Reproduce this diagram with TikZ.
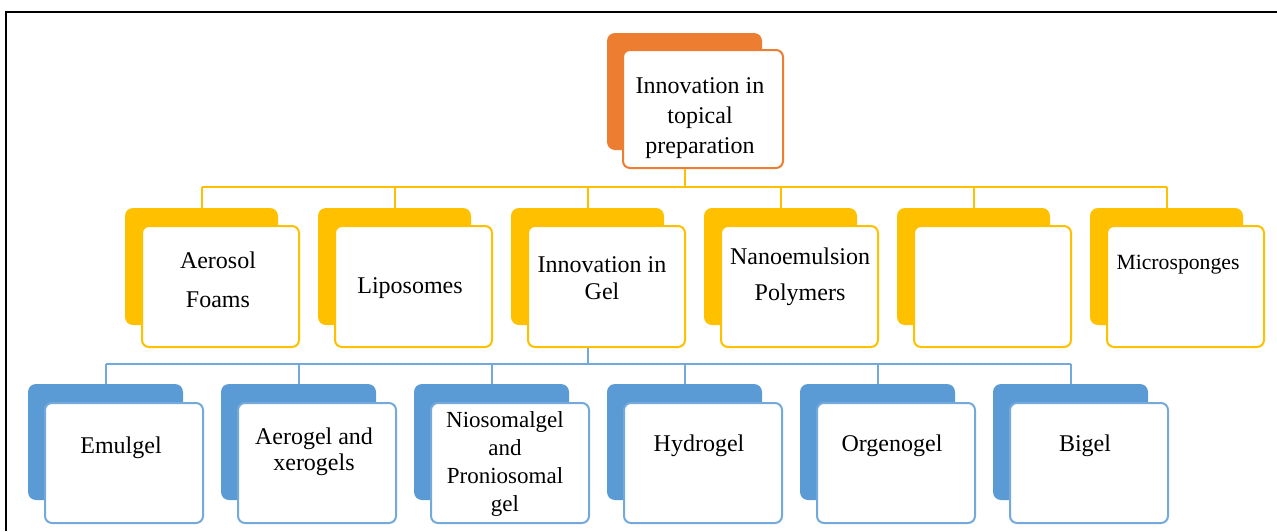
\documentclass[tikz,border=0pt]{standalone}
\usepackage{fontspec}
\setmainfont{Liberation Serif}
\definecolor{ofill}{HTML}{ED7D31}
\definecolor{yfill}{HTML}{FFC000}
\definecolor{bfill}{HTML}{5B9BD5}
\begin{document}
\begin{tikzpicture}[x=1pt,y=-1pt,
  backbox/.style={rounded corners=8pt, inner sep=0pt, draw=none},
  frontbox/.style={rounded corners=7pt, fill=white, line width=2pt, inner sep=0pt},
  lbl/.style={align=center, inner sep=0pt, font=\fontsize{24}{28}\selectfont},
  ylin/.style={draw=yfill, line width=2pt},
  blin/.style={draw=bfill!85, line width=2pt},
  frame/.style={draw=black, line width=2pt}
]
\useasboundingbox (0,0) rectangle (1277,531);
% frame
\coordinate (fa) at (6,531);
\coordinate (fb) at (6,12);
\coordinate (fc) at (1277,12);
\draw[frame] (fa) -- (fb) -- (fc);

% top node
\node[backbox, fill=ofill, minimum width=155pt, minimum height=117pt] (tb) at (684.5,91.5) {};
\node[frontbox, draw=ofill, minimum width=160pt, minimum height=118pt] (tf) at (703,109) {};
\node[lbl, font=\fontsize{24}{30}\selectfont] (tt) at (700,118) {Innovation in\\topical\\preparation};

% middle row
\foreach \i in {0,...,5} {
  \node[backbox, fill=yfill, minimum width=153pt, minimum height=117pt] (mb\i) at ({201.5+193*\i},266.5) {};
  \node[frontbox, draw=yfill, minimum width=157pt, minimum height=121pt] (mf\i) at ({220.5+193*\i},286.5) {};
}
% bottom row
\foreach \i in {0,...,5} {
  \node[backbox, fill=bfill, minimum width=155pt, minimum height=116pt] (bb\i) at ({105.5+193*\i},442) {};
  \node[frontbox, draw=bfill!85, minimum width=158pt, minimum height=120pt] (bf\i) at ({124+193*\i},463) {};
}

% labels middle
\node[lbl] (l0) at (218,279.5) {Aerosol\\[11pt]Foams};
\node[lbl] (l1) at (410,288) {Liposomes};
\node[lbl, font=\fontsize{24}{27}\selectfont] (l2) at (602,278.5) {Innovation in\\Gel};
\node[lbl] (l3) at (800,277) {Nanoemulsion\\[8pt]Polymers};
\node[lbl, font=\fontsize{21.7}{26}\selectfont] (l5) at (1178,265) {Microsponges};
% labels bottom
\node[lbl] (k0) at (121,448) {Emulgel};
\node[lbl, font=\fontsize{24}{26}\selectfont] (k1) at (314,452) {Aerogel and\\xerogels};
\node[lbl, font=\fontsize{23}{27.7}\selectfont] (k2) at (505,464) {Niosomalgel\\and\\Proniosomal\\gel};
\node[lbl] (k3) at (699,446) {Hydrogel};
\node[lbl] (k4) at (892,446) {Orgenogel};
\node[lbl] (k5) at (1085,446) {Bigel};

% yellow connectors
\coordinate (ybus) at (0,187);
\draw[ylin] (tb.south |- tf.south) -- (tb.south |- ybus);
\draw[ylin] (mb0.north |- ybus) -- (mb5.north |- ybus);
\foreach \i in {0,...,5} { \draw[ylin] (mb\i.north |- ybus) -- (mb\i.north); }

% blue connectors
\coordinate (bbus) at (0,364);
\draw[blin] (mb2.south |- mf2.south) -- (mb2.south |- bbus);
\draw[blin] (bb0.north |- bbus) -- (bb5.north |- bbus);
\foreach \i in {0,...,5} { \draw[blin] (bb\i.north |- bbus) -- (bb\i.north); }
\end{tikzpicture}
\end{document}
